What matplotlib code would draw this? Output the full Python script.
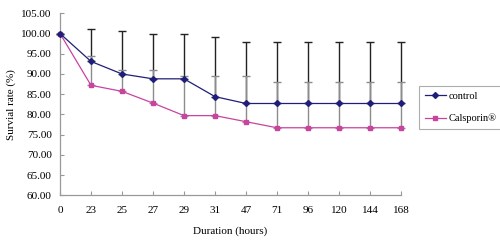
import matplotlib
matplotlib.use("Agg")
import matplotlib.pyplot as plt
import numpy as np

hours = ["0", "23", "25", "27", "29", "31", "47", "71", "96", "120", "144", "168"]
control = [100.0, 93.1, 90.0, 88.8, 88.8, 84.4, 82.7, 82.7, 82.7, 82.7, 82.7, 82.7]
calsporin = [100.0, 87.2, 85.7, 82.8, 79.7, 79.7, 78.2, 76.7, 76.7, 76.7, 76.7, 76.7]
control_err = [0.0, 7.9, 10.6, 11.2, 11.2, 14.8, 15.2, 15.2, 15.2, 15.2, 15.2, 15.2]
calsporin_err = [0.0, 7.2, 5.4, 8.2, 9.8, 9.8, 11.3, 11.2, 11.2, 11.2, 11.2, 11.2]
yticks = [60, 65, 70, 75, 80, 85, 90, 95, 100, 105]

plt.rcParams['font.family'] = ['Liberation Serif', 'DejaVu Serif']

fig = plt.figure(figsize=(5.0, 2.42), dpi=100)
ax = fig.add_axes([0.12, 0.193, 0.682, 0.752])

x = np.arange(len(hours))
navy = '#1f1f7a'
mag = '#c8449e'

for vals, errs, col in [(control, control_err, '#222222'),
                        (calsporin, calsporin_err, '#8c8c8c')]:
    eb = ax.errorbar(x, vals, yerr=[np.zeros(len(x)), errs], fmt='none',
                     ecolor=col, elinewidth=1.0, capsize=3, capthick=1.0, zorder=2)
    for art in eb.lines[1]:
        art.set_clip_on(False)
    for art in eb.lines[2]:
        art.set_clip_on(False)

ax.plot(x, control, color=navy, lw=0.9, marker='D', ms=3, mfc=navy, mec=navy,
        label='control', zorder=4, clip_on=False)
ax.plot(x, calsporin, color=mag, lw=0.9, marker='s', ms=3.2, mfc=mag, mec=mag,
        label='Calsporin®', zorder=3, clip_on=False)

ax.set_xlim(0, len(hours) - 1)
ax.set_ylim(60, 105)
ax.set_xticks(x)
ax.set_xticklabels(hours)
ax.set_yticks(yticks)
ax.set_yticklabels([f"{v:.2f}" for v in yticks])
ax.tick_params(direction='in', length=3, color='#999999', labelsize=8, pad=6)
ax.tick_params(axis='x', pad=8)
for s in ['top', 'right']:
    ax.spines[s].set_visible(False)
for s in ['left', 'bottom']:
    ax.spines[s].set_color('#999999')
    ax.spines[s].set_linewidth(0.9)

ax.set_xlabel('Duration (hours)', fontsize=8, labelpad=8)
ax.set_ylabel('Survial rate (%)', fontsize=8, labelpad=4)

leg = fig.legend(loc='upper left', bbox_to_anchor=(419/500, 1 - 86/242), fontsize=7.5,
                 frameon=True, fancybox=False, edgecolor='#999999',
                 handlelength=2.0, handletextpad=0.3, borderpad=0.55,
                 labelspacing=1.2, borderaxespad=0)
leg.get_frame().set_linewidth(0.8)

fig.savefig('out.png', dpi=100)
